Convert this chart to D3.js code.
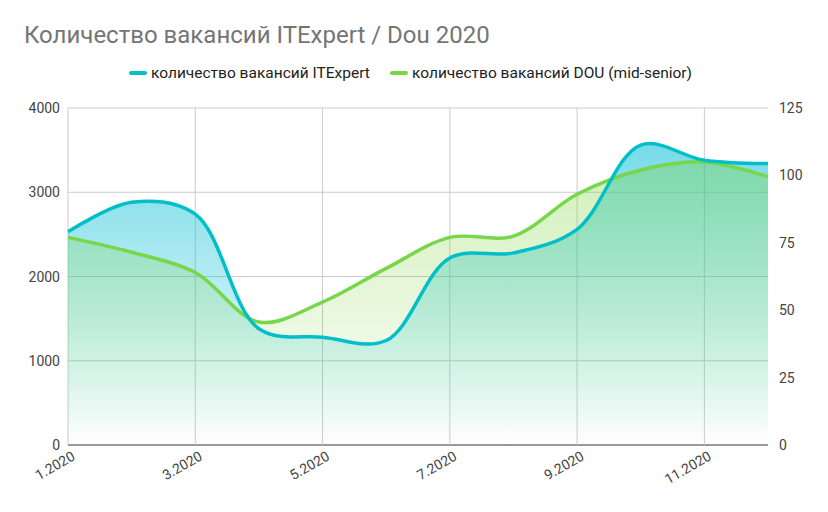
<!DOCTYPE html>
<html><head><meta charset="utf-8">
<script src="https://cdn.jsdelivr.net/npm/d3@7"></script>
<style>body{margin:0;background:#fff;font-family:Roboto,sans-serif}</style>
</head><body><div id="app"></div>
<script>
const months = [1,2,3,4,5,6,7,8,9,10,11,12];
const itexpert = [2530,2880,2740,1380,1280,1240,2220,2280,2560,3560,3380,3340];
const dou = [77,71.5,64,45.6,53,65.5,77,77.5,93,102,105,99.5];
const leftTicks = [0,1000,2000,3000,4000];
const rightTicks = [0,25,50,75,100,125];
const xTicks = [1,3,5,7,9,11];

const width = 828, height = 512;
const m = {l:68, r:60, t:108, b:67};
const svg = d3.select('#app').append('svg').attr('width', width).attr('height', height);

const x = d3.scaleLinear().domain([1,12]).range([m.l, width - m.r]);
const yL = d3.scaleLinear().domain([0,4000]).range([height - m.b, m.t]);
const yR = d3.scaleLinear().domain([0,125]).range([height - m.b, m.t]);

const defs = svg.append('defs');
const grad = (id, c, o) => {
  const g = defs.append('linearGradient').attr('id', id).attr('gradientUnits','userSpaceOnUse')
    .attr('x1',0).attr('x2',0).attr('y1',m.t).attr('y2',height - m.b);
  g.append('stop').attr('offset','0%').attr('stop-color',c).attr('stop-opacity',o);
  g.append('stop').attr('offset','100%').attr('stop-color',c).attr('stop-opacity',0);
};
grad('gc', '#00bcd4', 0.6);
grad('gg', '#7ed33a', 0.42);

// grid
svg.append('g').selectAll('line').data(leftTicks).join('line')
  .attr('x1', m.l).attr('x2', width - m.r).attr('y1', d => yL(d)).attr('y2', d => yL(d))
  .attr('stroke', d => d === 0 ? '#333' : '#ccc');
svg.append('g').selectAll('line').data(xTicks).join('line')
  .attr('x1', d => x(d)).attr('x2', d => x(d)).attr('y1', m.t).attr('y2', height - m.b)
  .attr('stroke', '#ccc');

const curve = d3.curveCatmullRom.alpha(0.5);
const areaC = d3.area().x((d,i) => x(months[i])).y0(yL(0)).y1(d => yL(d)).curve(curve);
const areaG = d3.area().x((d,i) => x(months[i])).y0(yR(0)).y1(d => yR(d)).curve(curve);
svg.append('path').attr('d', areaC(itexpert)).attr('fill', 'url(#gc)');
svg.append('path').attr('d', areaG(dou)).attr('fill', 'url(#gg)');
svg.append('path').attr('d', areaG.lineY1()(dou)).attr('fill','none').attr('stroke','#78d64b').attr('stroke-width',3.5);
svg.append('path').attr('d', areaC.lineY1()(itexpert)).attr('fill','none').attr('stroke','#00bfc8').attr('stroke-width',3.5);

// axes text
const t = svg.append('g').attr('font-size', 14).attr('fill', '#444');
t.selectAll('.l').data(leftTicks).join('text').attr('x', m.l - 8).attr('y', d => yL(d) + 5)
  .attr('text-anchor','end').text(d => d);
t.selectAll('.r').data(rightTicks).join('text').attr('x', width - m.r + 11).attr('y', d => yR(d) + 5)
  .text(d => d);
t.selectAll('.x').data(xTicks).join('text')
  .attr('transform', d => `translate(${x(d) + 8},${height - m.b + 14}) rotate(-30)`)
  .attr('text-anchor','end').text(d => d + '.2020');

svg.append('text').attr('x', 24).attr('y', 43).attr('font-size', 24).attr('fill', '#757575')
  .text('Количество вакансий ITExpert / Dou 2020');

const legend = [{n:'количество вакансий ITExpert', c:'#00bfc8', x:131},
                {n:'количество вакансий DOU (mid-senior)', c:'#78d64b', x:392}];
const lg = svg.append('g').selectAll('g').data(legend).join('g').attr('transform', d => `translate(${d.x},73)`);
lg.append('line').attr('x1',0).attr('x2',14).attr('stroke', d => d.c).attr('stroke-width',4).attr('stroke-linecap','round');
lg.append('text').attr('x', 20).attr('y', 5).attr('font-size', 15.5).attr('fill','#222').text(d => d.n);
</script></body></html>
